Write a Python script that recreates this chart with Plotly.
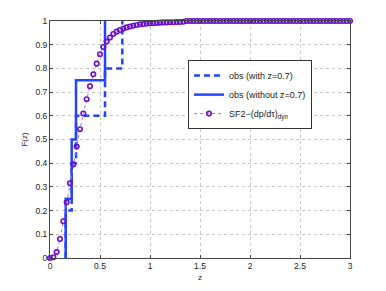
import plotly.graph_objects as go

# observed values
obs_with = [0.157, 0.217, 0.26, 0.55, 0.723]
obs_without = [0.157, 0.217, 0.26, 0.55]

# SF2 model CDF, sampled every 1/30
z_model = [k / 30 for k in range(91)]
F_model = [0, 0.003, 0.025, 0.08, 0.155, 0.235, 0.315, 0.395, 0.47, 0.543,
           0.61, 0.67, 0.725, 0.775, 0.82, 0.86, 0.89, 0.913, 0.93, 0.945,
           0.955, 0.962, 0.968, 0.973, 0.977, 0.980, 0.983, 0.986, 0.987, 0.989,
           0.990, 0.991, 0.992, 0.993, 0.994, 0.994, 0.995, 0.995, 0.996, 0.996,
           0.997] + [1.0] * 50

x_ticks = [0, 0.5, 1, 1.5, 2, 2.5, 3]
x_labels = ["0", "0.5", "1", "1.5", "2", "2.5", "3"]
y_ticks = [0, 0.1, 0.2, 0.3, 0.4, 0.5, 0.6, 0.7, 0.8, 0.9, 1]
y_labels = ["0", "0.1", "0.2", "0.3", "0.4", "0.5", "0.6", "0.7", "0.8", "0.9", "1"]

blue = "#2244ff"
purple = "#6a0fcc"


def stairs(vals):
    n = len(vals)
    xs = list(vals) + [vals[-1]]
    ys = [i / n for i in range(n + 1)]
    return xs, ys


fig = go.Figure()
xw, yw = stairs(obs_with)
fig.add_trace(go.Scatter(x=xw, y=yw, mode="lines", line_shape="vh",
                         line=dict(color=blue, width=2.5, dash="6px,4px"),
                         name="obs (with z=0.7)"))
xo, yo = stairs(obs_without)
fig.add_trace(go.Scatter(x=xo, y=yo, mode="lines", line_shape="vh",
                         line=dict(color=blue, width=2.5),
                         name="obs (without z=0.7)"))
fig.add_trace(go.Scatter(x=z_model, y=F_model, mode="lines+markers",
                         line=dict(color="#a070e0", width=1, dash="dot"),
                         marker=dict(symbol="circle-open", size=4.5, color=purple,
                                     line=dict(width=1.6, color=purple)),
                         name="SF2\u2212(dp/d\u03c4)<sub>dyn</sub>", cliponaxis=False))

axis_common = dict(showline=True, linecolor="#444", linewidth=1, mirror="ticks",
                   ticks="inside", ticklen=3, tickcolor="#444",
                   showgrid=True, gridcolor="#c8c8c8", griddash="dot", gridwidth=1,
                   zeroline=False, automargin=False,
                   tickfont=dict(size=8.5, color="#222"))

fig.update_layout(
    width=386, height=291,
    margin=dict(l=42, r=44, t=13, b=41),
    paper_bgcolor="white", plot_bgcolor="white",
    font=dict(family="Liberation Sans, Arial, sans-serif", size=8, color="#222"),
    xaxis=dict(range=[0, 3], tickvals=x_ticks, ticktext=x_labels,
               title=dict(text="z", font=dict(size=8), standoff=4), **axis_common),
    yaxis=dict(range=[0, 1], tickvals=y_ticks, ticktext=y_labels,
               title=dict(text="F(z)", font=dict(size=8), standoff=6), **axis_common),
    legend=dict(x=0.46, y=0.835, xanchor="left", yanchor="top",
                bgcolor="white", bordercolor="#333", borderwidth=1,
                font=dict(size=9), tracegroupgap=0, itemwidth=30),
    showlegend=True,
)

fig.write_html("out.html")
